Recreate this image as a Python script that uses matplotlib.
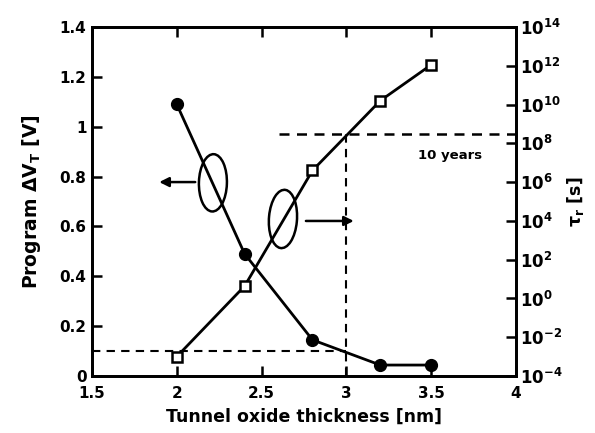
import numpy as np
import matplotlib
matplotlib.use('Agg')
import matplotlib.pyplot as plt
from matplotlib.patches import Ellipse
from matplotlib.ticker import FixedLocator, FuncFormatter

plt.rcParams['font.family'] = ['DejaVu Sans']
plt.rcParams['font.weight'] = 'bold'
plt.rcParams['axes.labelweight'] = 'bold'
plt.rcParams['mathtext.fontset'] = 'custom'
plt.rcParams['mathtext.rm'] = 'DejaVu Sans:bold'
plt.rcParams['mathtext.it'] = 'DejaVu Sans:italic:bold'
plt.rcParams['mathtext.bf'] = 'DejaVu Sans:bold'
plt.rcParams['mathtext.default'] = 'regular'

# oxide thickness [nm]
thickness = [2.0, 2.4, 2.8, 3.2, 3.5]
# programming window (left axis)
dvt = [1.09, 0.49, 0.145, 0.044, 0.044]
# retention time, log10 of seconds (right axis)
log_tau = [-3.0, 0.64, 6.6, 10.2, 12.05]
ten_years = 3.15e8
dvt_min = 0.1

fig = plt.figure(figsize=(5.95, 4.33), dpi=100)
ax = fig.add_axes([0.1546, 0.1316, 0.7126, 0.806])
ax2 = ax.twinx()

lw = 2.0
ax.plot(thickness, dvt, '-o', color='k', lw=lw, ms=8.5, zorder=3)
ax2.plot(thickness, 10.0 ** np.array(log_tau), '-s', color='k', lw=lw,
         ms=7, mfc='white', mew=1.8, zorder=3)

# reference lines: 10 years retention and minimum window
ax2.plot([2.6, 4.0], [ten_years, ten_years], '--', color='k', lw=1.8, dashes=(4, 3))
ax2.plot([3.0, 3.0], [1e-4, ten_years], '--', color='k', lw=1.5, dashes=(4, 3))
ax.plot([1.5, 3.0], [dvt_min, dvt_min], '--', color='k', lw=1.5, dashes=(4, 3))
ax.text(3.61, 0.886, '10 years', ha='center', va='center', fontsize=9.5)

# series markers: ellipses with arrows pointing at their axes
ax.add_patch(Ellipse((2.213, 0.775), 0.165, 0.23, angle=-3, fill=False, lw=1.8, color='k'))
ax.add_patch(Ellipse((2.626, 0.630), 0.165, 0.235, angle=-8, fill=False, lw=1.8, color='k'))
ax.annotate('', xy=(1.88, 0.778), xytext=(2.125, 0.778),
            arrowprops=dict(arrowstyle='-|>', color='k', lw=1.8, mutation_scale=14))
ax.annotate('', xy=(3.06, 0.622), xytext=(2.745, 0.622),
            arrowprops=dict(arrowstyle='-|>', color='k', lw=1.8, mutation_scale=14))

ax.set_xlim(1.5, 4)
ax.set_ylim(0, 1.4)
ax2.set_yscale('log')
ax2.set_ylim(1e-4, 1e14)

ax.set_xticks([1.5, 2, 2.5, 3, 3.5, 4])
ax.set_xticklabels(['1.5', '2', '2.5', '3', '3.5', '4'])
ax.set_yticks([0, 0.2, 0.4, 0.6, 0.8, 1.0, 1.2, 1.4])
ax.set_yticklabels(['0', '0.2', '0.4', '0.6', '0.8', '1', '1.2', '1.4'])
ax2.yaxis.set_major_locator(FixedLocator([10.0 ** k for k in range(-4, 15, 2)]))
ax2.yaxis.set_minor_locator(FixedLocator([]))
ax2.yaxis.set_major_formatter(FuncFormatter(lambda v, p: r'$10^{%d}$' % round(np.log10(v))))

ax.tick_params(axis='both', direction='in', length=7, width=1.8, labelsize=11,
               top=True)
ax.tick_params(axis='x', pad=7)
ax.tick_params(axis='y', pad=4)
ax2.tick_params(axis='y', direction='in', length=7, width=1.8, labelsize=12, pad=3)
for a in (ax, ax2):
    for s in a.spines.values():
        s.set_linewidth(2.0)

ax.set_xlabel('Tunnel oxide thickness [nm]', fontsize=12.5, labelpad=5)
ax.set_ylabel(r'Program $\Delta$V$_T$ [V]', fontsize=13.5, labelpad=12)
ax2.set_ylabel(r'$\tau_r$ [s]', fontsize=12.5, labelpad=2)

fig.savefig('out.png', dpi=100)
